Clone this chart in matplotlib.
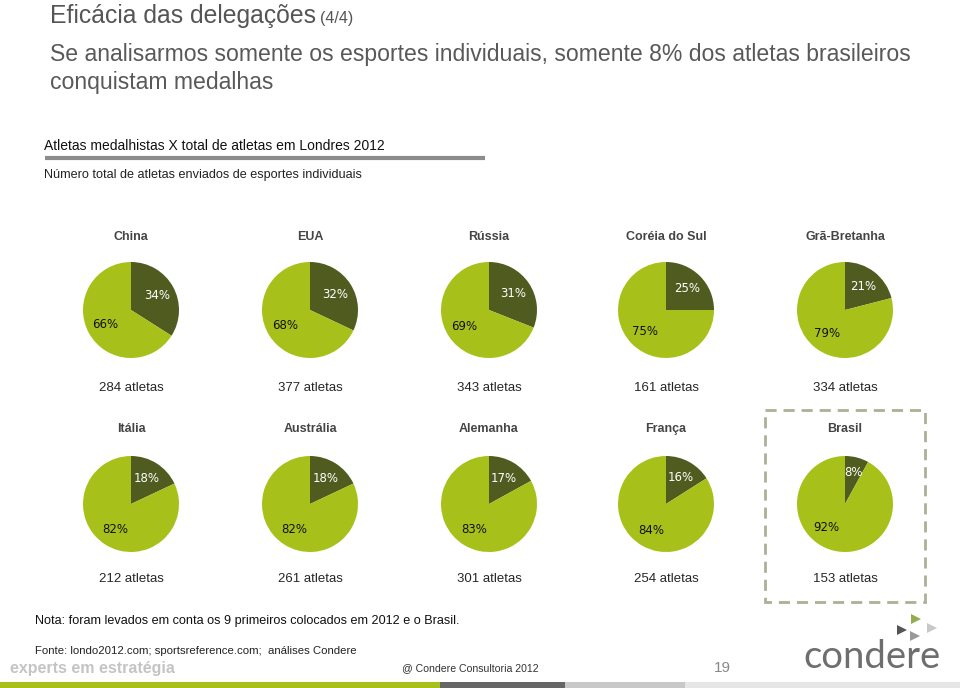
import math
import matplotlib
matplotlib.use("Agg")
import matplotlib.pyplot as plt
from matplotlib.patches import Rectangle

countries = ["China", "EUA", "Rússia", "Coréia do Sul", "Grã-Bretanha",
             "Itália", "Austrália", "Alemanha", "França", "Brasil"]
medal_pct = [34, 32, 31, 25, 21, 18, 18, 17, 16, 8]
other_pct = [66, 68, 69, 75, 79, 82, 82, 83, 84, 92]
athletes = [284, 377, 343, 161, 334, 212, 261, 301, 254, 153]

DARK = "#505c1f"
LIGHT = "#a8c11a"
W, H = 960, 688

fig = plt.figure(figsize=(W / 100, H / 100), dpi=100)
bg = fig.add_axes([0, 0, 1, 1])
bg.set_xlim(0, W)
bg.set_ylim(H, 0)
bg.axis("off")

FONT = "Liberation Sans"

# Title
bg.text(50, 16, "Eficácia das delegações", fontsize=17.8, color="#555555",
        family=FONT, va="center", ha="left")
bg.text(320, 18, "(4/4)", fontsize=11.5, color="#555555", family=FONT,
        va="center", ha="left")
bg.text(50, 55, "Se analisarmos somente os esportes individuais, somente 8% dos atletas brasileiros",
        fontsize=16.6, color="#595959", family=FONT, va="center", ha="left")
bg.text(50, 82, "conquistam medalhas", fontsize=16.6, color="#595959", family=FONT,
        va="center", ha="left")

bg.text(44, 146, "Atletas medalhistas X total de atletas em Londres 2012", fontsize=10,
        color="#111111", family=FONT, va="center", ha="left")
bg.plot([45, 485], [158, 158], color="#8c8c8c", lw=3, solid_capstyle="butt")
bg.text(44, 175, "Número total de atletas enviados de esportes individuais", fontsize=9.1,
        color="#222222", family=FONT, va="center", ha="left")

# Pie layout
cols_x = [131, 310, 489, 666, 845]
rows = [dict(cy=310, ty=237, ay=388), dict(cy=504, ty=429, ay=579)]
R = 48

for i, name in enumerate(countries):
    r, c = divmod(i, 5)
    cx = cols_x[c]
    cy = rows[r]["cy"]
    ax = fig.add_axes([(cx - R) / W, 1 - (cy + R) / H, 2 * R / W, 2 * R / H])
    ax.pie([medal_pct[i], other_pct[i]], colors=[DARK, LIGHT],
           startangle=90, counterclock=False, radius=1.0,
           wedgeprops=dict(linewidth=0))
    ax.set_xlim(-1, 1)
    ax.set_ylim(-1, 1)
    ax.set_aspect("equal")
    ax.axis("off")
    ang_d = math.radians(90 - medal_pct[i] * 3.6 / 2)
    ang_l = ang_d + math.pi
    dd = 0.62 if medal_pct[i] > 12 else 0.68
    ax.text(dd * math.cos(ang_d), dd * math.sin(ang_d),
            f"{medal_pct[i]}%", color="white", fontsize=8.5, family="DejaVu Sans",
            ha="center", va="center")
    lx, ly = 0.62 * math.cos(ang_l), 0.62 * math.sin(ang_l)
    if medal_pct[i] < 12:
        lx, ly = -0.38, -0.48
    ax.text(lx, ly, f"{other_pct[i]}%", color="#111111", fontsize=8.5,
            family="DejaVu Sans", ha="center", va="center")
    bg.text(cx, rows[r]["ty"], name, fontsize=9, color="#454545", family=FONT,
            fontweight="bold", ha="center", va="center")
    bg.text(cx, rows[r]["ay"], f"{athletes[i]} atletas", fontsize=9.5, color="#262626",
            family=FONT, ha="center", va="center")

# Dashed box around Brasil
bg.add_patch(Rectangle((765, 410), 160, 192, fill=False, edgecolor="#a9b196",
                       lw=2, linestyle=(0, (4, 2.5))))

# Footer
bg.text(35, 621, "Nota: foram levados em conta os 9 primeiros colocados em 2012 e o Brasil.",
        fontsize=9.1, color="#111111", family=FONT, va="center", ha="left")
bg.text(35, 651, "Fonte: londo2012.com; sportsreference.com;  análises Condere",
        fontsize=8.2, color="#222222", family=FONT, va="center", ha="left")
bg.text(10, 668, "experts em estratégia", fontsize=11.5, color="#c4c4c4", family=FONT,
        fontweight="bold", va="center", ha="left")
bg.text(402, 668, "@ Condere Consultoria 2012", fontsize=7.6, color="#333333", family=FONT,
        va="center", ha="left")
bg.text(722, 668, "19", fontsize=11, color="#888888", family=FONT, va="center", ha="center")
bg.text(872, 668, "condere", fontsize=27.5, color="#6e6e6e", family="Lato",
        va="baseline", ha="center")
# logo arrows
for (x, y, col) in [(916, 619, "#92ad4c"), (902, 630, "#555555"), (932, 628, "#c8c8c8"),
                    (915, 636, "#999999")]:
    bg.plot([x], [y], marker=">", color=col, markersize=6.5, markeredgewidth=0)

# bottom bar
bg.add_patch(Rectangle((0, 682), 440, 6, color="#a8c11a", lw=0))
bg.add_patch(Rectangle((440, 682), 125, 6, color="#666666", lw=0))
bg.add_patch(Rectangle((565, 682), 120, 6, color="#c8c8c8", lw=0))
bg.add_patch(Rectangle((685, 682), 275, 6, color="#e6e6e6", lw=0))

fig.savefig("out.png", dpi=100)
